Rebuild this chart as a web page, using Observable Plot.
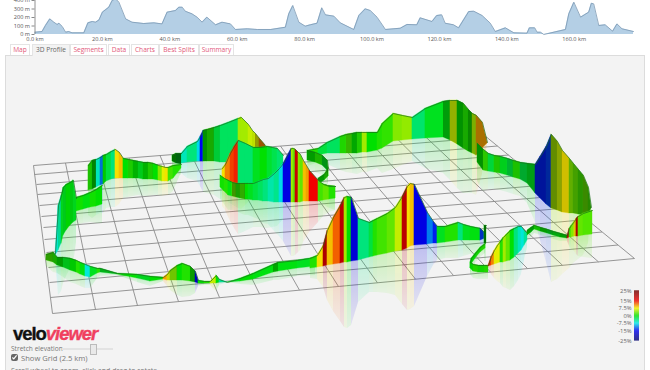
<!DOCTYPE html>
<html><head><meta charset="utf-8">
<script src="https://cdn.jsdelivr.net/npm/d3@7"></script>
<script src="https://cdn.jsdelivr.net/npm/@observablehq/plot@0.6"></script>
<style>
html,body{margin:0;padding:0;background:#fff;width:650px;height:370px;overflow:hidden;font-family:"Open Sans",sans-serif}
#page{position:relative;width:650px;height:370px;overflow:hidden}
#page svg{position:absolute;left:0;top:0;background:transparent;overflow:hidden}
#panel{position:absolute;left:5px;top:55px;width:638px;height:330px;background:#f3f3f3;border:1px solid #dcdcdc}
.tab{position:absolute;top:44px;height:10px;line-height:10px;border:1px solid #e4e4e4;border-bottom:none;font-size:6.6px;text-align:center;color:#e2597a;background:#fff;z-index:2}
.tab.on{color:#666;background:#f3f3f3;height:11px}
#logo{position:absolute;left:13px;top:324px;font:900 18.5px/20px "Liberation Sans",sans-serif;letter-spacing:-1.05px;color:#111;z-index:3;-webkit-text-stroke:.35px currentColor}
#logo i{color:#f0405f;font-style:italic}
.lbl{position:absolute;color:#777;z-index:3;white-space:nowrap}
#track{position:absolute;left:62px;top:348px;width:51px;height:2px;background:#e3e3e3;z-index:3}
#knob{position:absolute;left:90px;top:344px;width:5px;height:9px;background:#e9e9e9;border:1px solid #bbb;z-index:3}
#check{position:absolute;left:11px;top:354px;width:7px;height:7px;margin:0;z-index:3;accent-color:#666}
</style></head><body><div id="page">
<div id="panel"></div>
<div class="tab" style="left:10px;width:18px">Map</div>
<div class="tab on" style="left:32px;width:36px">3D Profile</div>
<div class="tab" style="left:70px;width:35px">Segments</div>
<div class="tab" style="left:108px;width:20px">Data</div>
<div class="tab" style="left:131px;width:26px">Charts</div>
<div class="tab" style="left:159px;width:38px">Best Splits</div>
<div class="tab" style="left:199px;width:33px">Summary</div>
<div id="logo">velo<i>viewer</i></div>
<div class="lbl" style="left:11px;top:344px;font-size:6.6px">Stretch elevation</div>
<div id="track"></div><div id="knob"></div>
<input id="check" type="checkbox" checked>
<div class="lbl" style="left:21px;top:353px;font-size:7.6px">Show Grid (2.5 km)</div>
<div class="lbl" style="left:11px;top:366px;font-size:7px">Scroll wheel to zoom, click and drag to rotate</div>
</div>
<script>
// Elevation profile (distance in km, elevation in m)
const profileKm=[0,2.1,3.1,4.4,5.6,6.6,7.1,8.1,9.1,10,11,14.5,15.7,17,18,19,20,21.9,22.9,23.9,24.9,26.9,28.8,32.3,35.3,37.7,39.2,41.7,42.7,43.7,44.6,46.6,48.1,49.6,51,53.6,55.5,58,59.5,63,66,70,74.3,75.3,76.5,78.3,80.2,81.7,83.7,85.1,86.2,88.7,90.6,94.6,96.1,98,99.5,101.5,104,108.4,110.4,113.3,114.3,117.8,119.2,120.7,121.7,124.2,125.7,128.7,130.2,132.7,135.1,136.6,139.6,142.1,146,146.7,148.3,149,150,151,157.4,158.4,159.9,161.9,164.3,165.1,165.8,167.3,169.2,171.4,172.7,174.2,177.6];
const profileM=[27,35,106,184,145,118,133,94,27,35,20,20,137,153,145,172,263,321,400,420,380,184,145,129,137,125,263,282,321,321,274,243,204,145,204,114,145,125,59,67,59,59,86,243,341,145,98,114,133,314,231,216,137,59,223,302,282,204,59,74,118,114,196,153,223,231,133,114,78,270,274,223,133,35,78,20,16,78,78,27,27,0,59,243,380,204,263,368,360,106,114,39,125,67,35];
const kmTicks=[0,20,40,60,80,100,120,140,160];
const mTicks=[0,100,200,300,400];

// Floor grid lines
const rowLeftX=[33,34,36,37,39,41,43,44,46,48,49,50,52];
const rowLeftY=[165,174,184,194,205,216,227,239,252,267,282,297,313];
const rowRightX=[478,486.5,497,508,519.5,531.5,544.5,558,572,586.5,601.5,617.5,634];
const rowRightY=[130,137,145.5,154.5,164,174,184.5,195.5,207,219,231.5,244.5,258];
const colTopX=[33,65,97,128.5,159.5,190,220,250,280,309,338,367,395,423,451,478];
const colTopY=[165,162.5,160,157.5,155,152.7,150.3,148,145.6,143.3,141,138.8,136.6,134.4,132.2,130];
const colBottomX=[52,95,137,178,219,259,299,338,377,415,453,490,527,562,598,634];
const colBottomY=[313,309,305,301,297,293.4,289.7,286,282.3,278.7,275,271.6,268,264.8,261.4,258];

// Route walls: x, top, base, gradient % per band, darkening per band
const hillBackX=[181,187,197,200,203,207,214,220,228,238,241,248,252,255,259,265];
const hillBackTop=[153,146,141,136,130,129,127,125,122,118,117,124,130,133,138,145];
const hillBackBase=[163,162,161,161,161,161,161,162,162,163,163,163,164,164,165,165];
const hillBackGrade=[-6,-4,-8,-15,0,1,-2,-3,-3,5,5,6,6,7,11];
const hillBackDark=[0,0,0,0,.35,.25,.1,0,0,0,0,0,.05,.35,.35];

const ridgeX=[308,318,327,340,346,352,357,362,367,377,382,393,402,412,425,443,450,457,463,468,472,476,482,487];
const ridgeTop=[150,148,142,136,134,133,132,132,132,132,123,113,115,117,108,101,100,100,103,109,113,115,122,142];
const ridgeBase=[158,155,153,153,153,153,153,152,152,150,148,141,140,139,138,137,140,144,148,151,153,155,148,143];
const ridgeGrade=[1,-2,-3,1,2,0,1,5,0,1,1.5,4,4.5,-3.5,-1,-.5,6,0,1,.5,5,10,10];
const ridgeDark=[0,0,0,.05,.2,.25,.1,0,0,0,0,0,0,0,0,.3,.25,.35,.25,.4,.25,.3,.3];

const eastX=[477,483,488,494,500,507,513,520,527,535,540,546,551,557,562,569,573,578,583,588,591];
const eastTop=[143,149,153,155,156,158,160,162,163,164,156,146,134,141,150,158,163,169,175,187,207];
const eastBase=[162,170,171,172,173,175,177,179,183,193,198,204,208,210,212,213,213,214,215,215,208];
const eastGrade=[0,1.5,-2,1,-1,-2,1,-2,-1,-14,-14,-13,5,6,8,4,3,2,3,2];
const eastDark=[.35,.12,.05,.12,.08,.2,.15,.25,.3,.35,.35,.35,.4,.3,.15,.25,.3,.35,.4,.4];

const westX=[88,92,96,100,103,106,111,115,119,123,128,133,138,143,148,153,158,162,165,168,173,181];
const westTop=[165,160,159,157,155,154,151,149,152,158,159,160,161,162,162,163,165,166,167,167,165,164];
const westBase=[190,189,187,185,184,181,179,178,178,178,178,178,178,179,179,179,180,181,181,181,178,168];
const westGrade=[1,0,-6,-11,0,-2,-4,8,9,0,1,0,-1,0,1,0,4,7,8,2,1];
const westDark=[.15,.4,0,.1,.1,0,0,0,0,0,.1,.2,.1,.2,.1,0,0,0,0,0,0];

const notchX=[172,176,181];
const notchTop=[155,153,153];
const notchBase=[161,163,164];
const notchGrade=[0,-1];
const notchDark=[.5,.55];

const shelfX=[76,83,90,96,102];
const shelfTop=[197,195,192,189,185];
const shelfBase=[211,209,207,206,204];
const shelfGrade=[.5,-.5,.5,0];
const shelfDark=[0,0,0,0];

const edgeX=[55,58,61,63,66,70,73,76];
const edgeTop=[253,205,195,187,184,182,180,198];
const edgeBase=[255,250,243,235,230,225,222,220];
const edgeGrade=[-7,-5,-1,-1,0,-.5,-1];
const edgeDark=[0,.05,.05,.1,.05,.1,.05];

const curlX=[307,315,322,327,328,324,318,320,327,335];
const curlTop=[150,152,155,160,168,174,178,183,185,186];
const curlBase=[160,162,165,170,176,180,184,192,196,198];
const curlGrade=[0,1,-1,0,1,0,1,0,1];
const curlDark=[.3,.2,.35,.3,.25,.3,.1,.1,.1];

const humpX=[222,225,230,234,238,245,253,260,267,272,277,283];
const humpTop=[168,164,153,146,140,143,147,147,146,147,148,155];
const humpBase=[187,187,187,187,187,187,187,187,187,187,187,187];
const humpGrade=[8,11,13,14,-3.5,-3.5,-1,0,-1.5,-2.5,-3.5];
const humpDark=[0,0,0,0,0,0,0,0,0,0,0];

const loopX=[220,224,228,232,236,240,245,248,253,258,263,268,274,279,283,291,293,295,298,300,303,306,309,318,323,329,335];
const loopTop=[175,178,180,182,183,183,183,183,183,181,179,178,173,168,163,148,148,149,152,154,160,165,170,180,184,186,186];
const loopBase=[187,191,195,196,197,198,199,199,200,200,201,201,202,202,202,202,202,202,202,202,201,201,201,201,200,199,198];
const loopGrade=[.5,1,-.5,3,1,2,0,-1,-2,-3,-4,-5.5,-4.5,-8,-16,5,3,18,4,3,9,10,15,2,3,1];
const loopDark=[0,0,0,.35,.3,.25,0,0,0,0,0,0,0,0,0,0,0,0,0,0,0,0,0,0,0,0];

const southX=[46,53,57,63,70,76,80,85,90,97,100,117,137,150,163,167,170,177,182,190,195,198,204,210,216,219,227,240,253,273,278,297,315];
const southTop=[254,252,257,257,258,260,262,264,266,268,268,273,274,276,277,274,270,265,263,266,271,280,281,281,275,279,282,278,273,264,262,260,257];
const southBase=[260,262,265,267,270,272,274,276,277,273,272,274,278,281,279,280,280,280,280,281,282,283,283,283,283,282,282,281,279,272,271,268,266];
const southGrade=[2,1,0,-1,0,1,-.5,-7,-1,1,-1,0,-1,0,10,7,4,0,1,.5,-17,0,1,6,0,-5,-1,0,-.5,0,-.5,-1];
const southDark=[.3,.25,.3,.15,.1,0,0,0,0,0,.2,0,.05,0,0,.1,.15,0,0,.3,.1,0,0,0,0,0,0,0,0,.25,0,0];

const climbX=[310,317,323,327,333,340,344,347,351,358,369,373,377,387,395,402,407,410,414,427,433,437,445,458,463,470,480,485];
const climbTop=[258,255,245,230,217,205,197,196,197,218,222,220,218,213,207,196,186,183,184,212,221,226,226,222,224,226,228,233];
const climbBase=[268,267,266,265,264,263,262,262,261,260,257,256,255,253,251,250,248,246,245,244,243,243,242,240,240,240,240,238];
const climbGrade=[1,8,20,9,12,19,5,0,-17,-4,-2,1,2,3,6,19,8,9,-16,-11,-14,-1,1,-4,-1,-.5,-13];
const climbDark=[0,0,0,0,0,0,0,0,0,0,0,0,0,0,0,0,0,0,0,0,0,0,0,0,0,0,.2];

const spikeX=[484,486];
const spikeTop=[225,225];
const spikeBase=[243,243];
const spikeGrade=[0];
const spikeDark=[.5];

const hookX=[485,480,475,471,470,473,478,484,488];
const hookTop=[243,247,253,258,262,264,265,265,265];
const hookBase=[248,252,258,264,268,271,272,272,272];
const hookGrade=[1,.5,0,-.5,0,1,.5,1];
const hookDark=[.05,.05,.05,.05,.05,.05,.05,.05];

const riseX=[488,491,494,497,500,503,506,510,514,518,521,524,527];
const riseTop=[265,256,250,245,241,237,234,230,228,226,226,230,233];
const riseBase=[266,265,264,263,262,262,261,260,257,253,250,245,240];
const riseGrade=[14,11,7,7,1,5,3,0,-4,-6,-7,-5];
const riseDark=[0,0,0,0,0,0,0,0,0,0,0,0];

const stripX=[527,531,534,540,547,553,560,567];
const stripTop=[230,227,225,227,229,231,233,235];
const stripBase=[235,232,229,231,233,235,237,238];
const stripGrade=[0,-.5,.5,0,-1,-.5,0];
const stripDark=[.25,.3,.15,.3,.3,.25,.3];

const cornerX=[567,569,571,574,576,578,583,592];
const cornerTop=[235,228,225,221,218,216,213,210];
const cornerBase=[238,237,237,236,236,236,235,234];
const cornerGrade=[20,2,4,8,20,3,2.5];
const cornerDark=[0,0,0,.1,0,0,0];

const walls=[
 [hillBackX,hillBackTop,hillBackBase,hillBackGrade,hillBackDark],
 [ridgeX,ridgeTop,ridgeBase,ridgeGrade,ridgeDark],
 [eastX,eastTop,eastBase,eastGrade,eastDark],
 [westX,westTop,westBase,westGrade,westDark],
 [notchX,notchTop,notchBase,notchGrade,notchDark],
 [shelfX,shelfTop,shelfBase,shelfGrade,shelfDark],
 [edgeX,edgeTop,edgeBase,edgeGrade,edgeDark],
 [curlX,curlTop,curlBase,curlGrade,curlDark],
 [humpX,humpTop,humpBase,humpGrade,humpDark],
 [loopX,loopTop,loopBase,loopGrade,loopDark],
 [southX,southTop,southBase,southGrade,southDark],
 [climbX,climbTop,climbBase,climbGrade,climbDark],
 [spikeX,spikeTop,spikeBase,spikeGrade,spikeDark],
 [hookX,hookTop,hookBase,hookGrade,hookDark],
 [riseX,riseTop,riseBase,riseGrade,riseDark],
 [stripX,stripTop,stripBase,stripGrade,stripDark],
 [cornerX,cornerTop,cornerBase,cornerGrade,cornerDark]
];

// Gradient scale
const gradeStops=[-25,-15,-7.5,0,7.5,15,25];
const gradeColours=["#00006a","#0000f0","#00e8e8","#00e000","#f5f000","#f00000","#6a0000"];
const legendTicks=[25,15,7.5,0,-7.5,-15,-25];
const colorScale={type:"linear",domain:gradeStops,range:gradeColours};

// One two-row group per coloured band of a wall
function bands([xs,tops,bases,grades,darks],w){
  const rows=[];
  grades.forEach((g,i)=>{
    for(const j of [i,i+1]) rows.push({
      band:w+"-"+i,x:xs[j],top:tops[j],base:bases[j],
      mirror:2*bases[j]-tops[j],grade:g,dark:darks[i]});
  });
  return rows;
}
const wallRows=walls.map(bands);
const tops=walls.map(w=>w[0].map((x,i)=>({x,top:w[1][i]})));

const page=document.getElementById("page");

// Elevation chart
page.append(Plot.plot({
  width:650,height:46,margin:0,
  style:{fontFamily:"'Open Sans',sans-serif",fontSize:"6px",color:"#555"},
  x:{domain:[0,160],range:[34.5,573.7],axis:null},
  y:{domain:[0,400],range:[34,0],axis:null},
  marks:[
    Plot.areaY(profileKm.map((k,i)=>({k,m:profileM[i]})),{x:"k",y:"m",fill:"#b4cfe5",clip:true}),
    Plot.lineY(profileKm.map((k,i)=>({k,m:profileM[i]})),{x:"k",y:"m",stroke:"#7b98b2",strokeWidth:.8,clip:true}),
    Plot.axisX(kmTicks,{anchor:"bottom",y:0,tickSize:0,tickPadding:3,tickFormat:d=>d.toFixed(1)+" km",fill:"#555",fontSize:5.6,label:null}),
    Plot.axisY(mTicks,{anchor:"left",x:0,tickSize:3,tickPadding:2,tickFormat:d=>d+" m",stroke:"#888",fill:"#555",fontSize:5.6,label:null}),
    Plot.ruleX([0],{y1:0,y2:400,stroke:"#777",strokeWidth:.8})
  ]
}));

// 3D view
const scene=Plot.plot({
  width:650,height:370,margin:0,
  x:{domain:[0,650],range:[0,650],axis:null},
  y:{domain:[0,370],range:[0,370],axis:null},
  color:colorScale,
  opacity:{type:"linear",domain:[0,1],range:[0,1]},
  marks:[
    Plot.link(rowLeftX,{x1:d=>d,y1:(d,i)=>rowLeftY[i],x2:(d,i)=>rowRightX[i],y2:(d,i)=>rowRightY[i],stroke:"#8a8a8a",strokeWidth:.9}),
    Plot.link(colTopX,{x1:d=>d,y1:(d,i)=>colTopY[i],x2:(d,i)=>colBottomX[i],y2:(d,i)=>colBottomY[i],stroke:"#8a8a8a",strokeWidth:.9}),
    ...wallRows.map(r=>Plot.areaY(r,{x:"x",y1:"base",y2:"mirror",z:"band",fill:"grade",className:"reflection"})),
    ...wallRows.flatMap((r,i)=>[
      Plot.areaY(r,{x:"x",y1:"top",y2:"base",z:"band",fill:"grade",stroke:"grade",strokeWidth:.35}),
      Plot.areaY(r.filter(d=>d.dark>0),{x:"x",y1:"top",y2:"base",z:"band",fill:"#000",fillOpacity:"dark"}),
      Plot.line(tops[i],{x:"x",y:"top",stroke:"#1c6a1c",strokeWidth:.8,strokeOpacity:.85})
    ])
  ]
});
const svgNS=d3.select(scene);
const defs=svgNS.insert("defs",":first-child");
const lg=defs.append("linearGradient").attr("id","fadeGrad").attr("x1",0).attr("y1",0).attr("x2",0).attr("y2",1);
lg.append("stop").attr("offset",0).attr("stop-color","#fff").attr("stop-opacity",.23);
lg.append("stop").attr("offset",1).attr("stop-color","#fff").attr("stop-opacity",.06);
defs.append("mask").attr("id","fade").attr("maskContentUnits","objectBoundingBox")
  .attr("x",-.1).attr("y",-.1).attr("width",1.2).attr("height",1.2)
  .append("rect").attr("x",-.1).attr("y",-.1).attr("width",1.2).attr("height",1.2).attr("fill","url(#fadeGrad)");
svgNS.selectAll(".reflection path").attr("mask","url(#fade)");
page.append(scene);

// Gradient legend
page.append(Plot.plot({
  width:650,height:370,marginLeft:634,marginRight:11,marginTop:290.5,marginBottom:29.5,
  style:{fontFamily:"'Open Sans',sans-serif"},
  x:{domain:[0,1],axis:null},
  y:{domain:[-25,25],axis:null},
  color:colorScale,
  marks:[
    Plot.rect(d3.range(-25,25,1),{x1:0,x2:1,y1:d=>d,y2:d=>d+1.1,fill:d=>d+.5}),
    Plot.axisY(legendTicks,{anchor:"left",tickSize:0,tickPadding:3,tickFormat:d=>d+"%",fontSize:5.8,fill:"#666",label:null})
  ]
}));
</script></body></html>
